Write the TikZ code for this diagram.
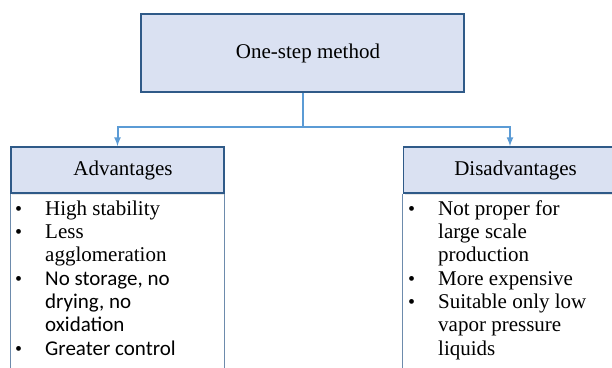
\documentclass[tikz,border=0pt]{standalone}
\usepackage{fontspec}
\setmainfont{Liberation Serif}
\newfontfamily\calfont{Carlito}
\usetikzlibrary{calc, positioning, shadows}

\definecolor{boxfill}{HTML}{DAE1F2}
\definecolor{boxline}{HTML}{2F5A88}
\definecolor{linkline}{HTML}{5B9BD5}

\tikzset{
	headbox/.style = {draw = boxline, line width = 1.6pt, fill = boxfill, inner sep = 0pt,
		execute at begin node = \hspace*{11pt},
		drop shadow = {opacity = 0.2, shadow xshift = 1pt, shadow yshift = -1.5pt}},
	listtext/.style = {inner sep = 0pt, anchor = north west, font = \fontsize{21}{23.3}\selectfont},
	link/.style = {draw = linkline, line width = 2pt}
}

\newcommand{\dotmark}{\hspace*{1pt}{\fontsize{20}{20}\selectfont\textbullet}}

\begin{document}
\begin{tikzpicture}[x = 1pt, y = 1pt, > = latex, font = \fontsize{21}{23.3}\selectfont]

	% Definitions
	
	\def\hw{213}		% Header width, height
	\def\hh{46}
	
	\useasboundingbox (0, 0) rectangle (612, 367);
	\clip (0, 0) rectangle (612, 367);
	
	% Draw boxes
	
	\node [headbox, minimum width = 323pt, minimum height = 78pt] (method) at (302.5, 314) {One-step method};
	\node [headbox, minimum width = \hw pt, minimum height = \hh pt] (advhead) at (117.5, 197) {Advantages};
	\node [headbox, minimum width = \hw pt, minimum height = \hh pt] (dishead) at (510, 197) {Disadvantages};
	
	\draw [boxline!70, line width = 1pt] (advhead.south west) -- ++(0, -200) (advhead.south east) -- ++(0, -200);
	\draw [boxline!70, line width = 1pt] (dishead.south west) -- ++(0, -200) (dishead.south east) -- ++(0, -200);
	
	% Draw lists
	
	\node [listtext] (advlist) at (14, 168.3)
	{%
		\begin{tabular}{@{}p{31pt}@{}l@{}}
			\dotmark & High stability \\
			\dotmark & Less \\
			& agglomeration \\
			\dotmark & \calfont No storage, no \\
			& \calfont drying, no \\
			& \calfont oxidation \\
			\dotmark & \calfont Greater control \\
		\end{tabular}%
	};
	
	\node [listtext] (dislist) at (407, 168.3)
	{%
		\begin{tabular}{@{}p{31pt}@{}l@{}}
			\dotmark & Not proper for \\
			& large scale \\
			& production \\
			\dotmark & More expensive \\
			\dotmark & Suitable only low \\
			& vapor pressure \\
			& liquids \\
		\end{tabular}%
	};
	
	% Draw connectors
	
	\coordinate (split) at ($(method.south) + (0, -34)$);
	\draw [link] (method.south) -- (split);
	\draw [link, ->] (split) -| (advhead.north);
	\draw [link, ->] (split) -| (dishead.north);
	
\end{tikzpicture}
\end{document}
